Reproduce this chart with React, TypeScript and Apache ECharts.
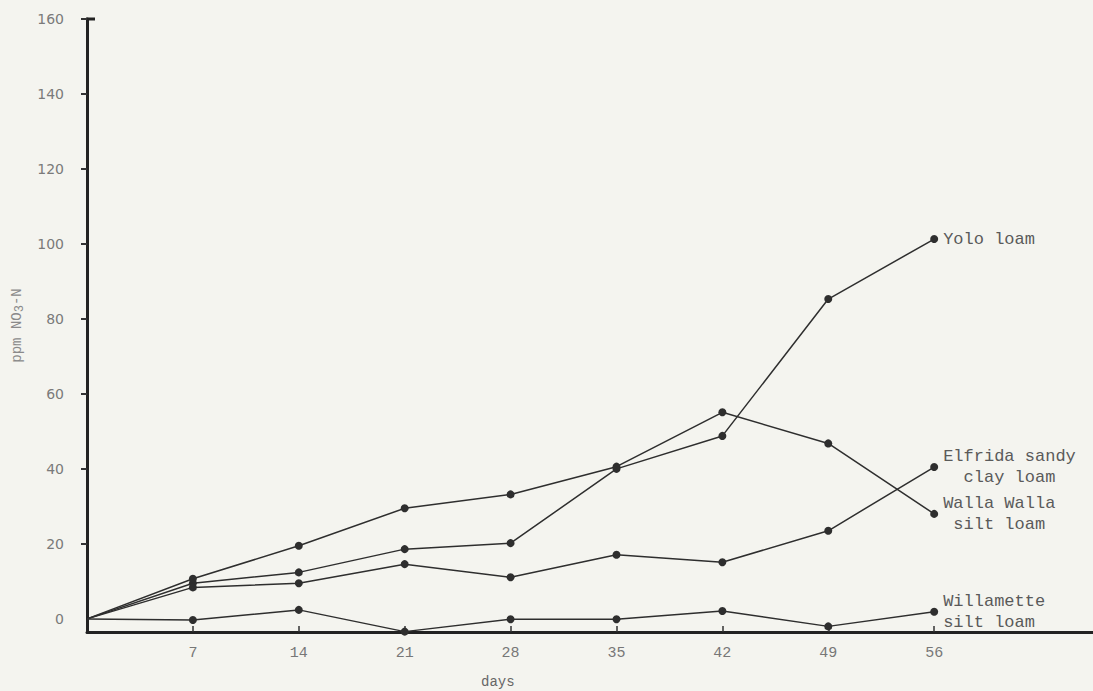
import React, { useEffect, useRef } from "react";
import * as echarts from "echarts";

const days = [0, 7, 14, 21, 28, 35, 42, 49, 56];
const xTickDays = [7, 14, 21, 28, 35, 42, 49, 56];
const yTickValues = [0, 20, 40, 60, 80, 100, 120, 140, 160];
const yolo = [0, 9.5, 12.4, 18.6, 20.2, 40.0, 48.8, 85.3, 101.3];
const wallaWalla = [0, 10.7, 19.5, 29.5, 33.2, 40.6, 55.1, 46.8, 28.0];
const elfrida = [0, 8.4, 9.5, 14.6, 11.1, 17.1, 15.1, 23.5, 40.5];
const willamette = [0, -0.3, 2.4, -3.4, -0.1, -0.1, 2.1, -2.0, 1.9];
const seriesNames = ["Yolo loam", "Walla Walla\n silt loam", "Elfrida sandy\n  clay loam", "Willamette\nsilt loam"];

const LINE = "#2e2e2e";
const MONO = "'Liberation Mono', 'DejaVu Sans Mono', monospace";

function makeSeries(name: string, values: number[]) {
  return {
    type: "line",
    name,
    data: values.map((v, i) =>
      i === 0 ? { value: [days[i], v], symbol: "none" } : { value: [days[i], v] }
    ),
    symbol: "circle",
    symbolSize: 8,
    lineStyle: { color: LINE, width: 1.5 },
    itemStyle: { color: LINE },
    label: {
      show: true,
      position: "right",
      distance: 5,
      formatter: (p: any) => (p.dataIndex === values.length - 1 ? name : ""),
      fontFamily: MONO,
      fontSize: 17,
      color: "#5a5a5a",
      lineHeight: 21,
    },
    z: 3,
  };
}

export default function App() {
  const ref = useRef<HTMLDivElement>(null);
  useEffect(() => {
    if (!ref.current) return;
    const chart = echarts.init(ref.current, null, { renderer: "svg" });
    chart.setOption({
      animation: false,
      backgroundColor: "#f4f4ef",
      grid: { left: 87, right: 0, top: 19, bottom: 59 },
      xAxis: {
        type: "value",
        min: 0,
        max: 66.5,
        interval: 7,
        splitLine: { show: false },
        axisLine: { onZero: false, lineStyle: { color: "#222", width: 3 } },
        axisTick: {
          show: true,
          inside: true,
          length: 6,
          customValues: xTickDays,
          lineStyle: { color: "#333", width: 1.5 },
        },
        axisLabel: {
          customValues: xTickDays,
          margin: 14,
          fontFamily: MONO,
          fontSize: 15,
          color: "#777",
        },
      },
      yAxis: {
        type: "value",
        min: -3.5,
        max: 160,
        name: "{a|ppm NO}{s|3}{a|-N}",
        nameLocation: "middle",
        nameGap: 60,
        nameRotate: 90,
        nameTextStyle: {
          rich: {
            a: { fontFamily: MONO, fontSize: 14, color: "#8a8a8a" },
            s: { fontFamily: MONO, fontSize: 12, color: "#8a8a8a", verticalAlign: "bottom", padding: [7, 0, 0, 0] },
          },
        },
        splitLine: { show: false },
        axisLine: { onZero: false, lineStyle: { color: "#222", width: 3 } },
        axisTick: {
          show: true,
          length: 6,
          customValues: yTickValues.slice(1),
          lineStyle: { color: "#333", width: 2 },
        },
        axisLabel: {
          customValues: yTickValues,
          margin: 23,
          fontFamily: "'DejaVu Sans', sans-serif",
          fontSize: 14,
          color: "#7a7a7a",
        },
      },
      graphic: [
        {
          type: "text",
          left: 481,
          top: 675,
          style: { text: "days", fontFamily: MONO, fontSize: 14, fill: "#666" },
        },
      ],
      series: [
        makeSeries(seriesNames[0], yolo),
        makeSeries(seriesNames[1], wallaWalla),
        makeSeries(seriesNames[2], elfrida),
        makeSeries(seriesNames[3], willamette),
      ],
    });
    const top = chart.convertToPixel({ gridIndex: 0 }, [0, 160]) as number[];
    chart.setOption({
      graphic: [
        {
          type: "text",
          left: 481,
          top: 675,
          style: { text: "days", fontFamily: MONO, fontSize: 14, fill: "#666" },
        },
        {
          type: "line",
          shape: { x1: top[0] - 1, y1: top[1], x2: top[0] + 8, y2: top[1] },
          style: { stroke: "#222", lineWidth: 3 },
        },
      ],
    });
    return () => chart.dispose();
  }, []);
  return (
    <div
      ref={ref}
      style={{ position: "fixed", left: 0, top: 0, width: 1093, height: 691 }}
    />
  );
}
